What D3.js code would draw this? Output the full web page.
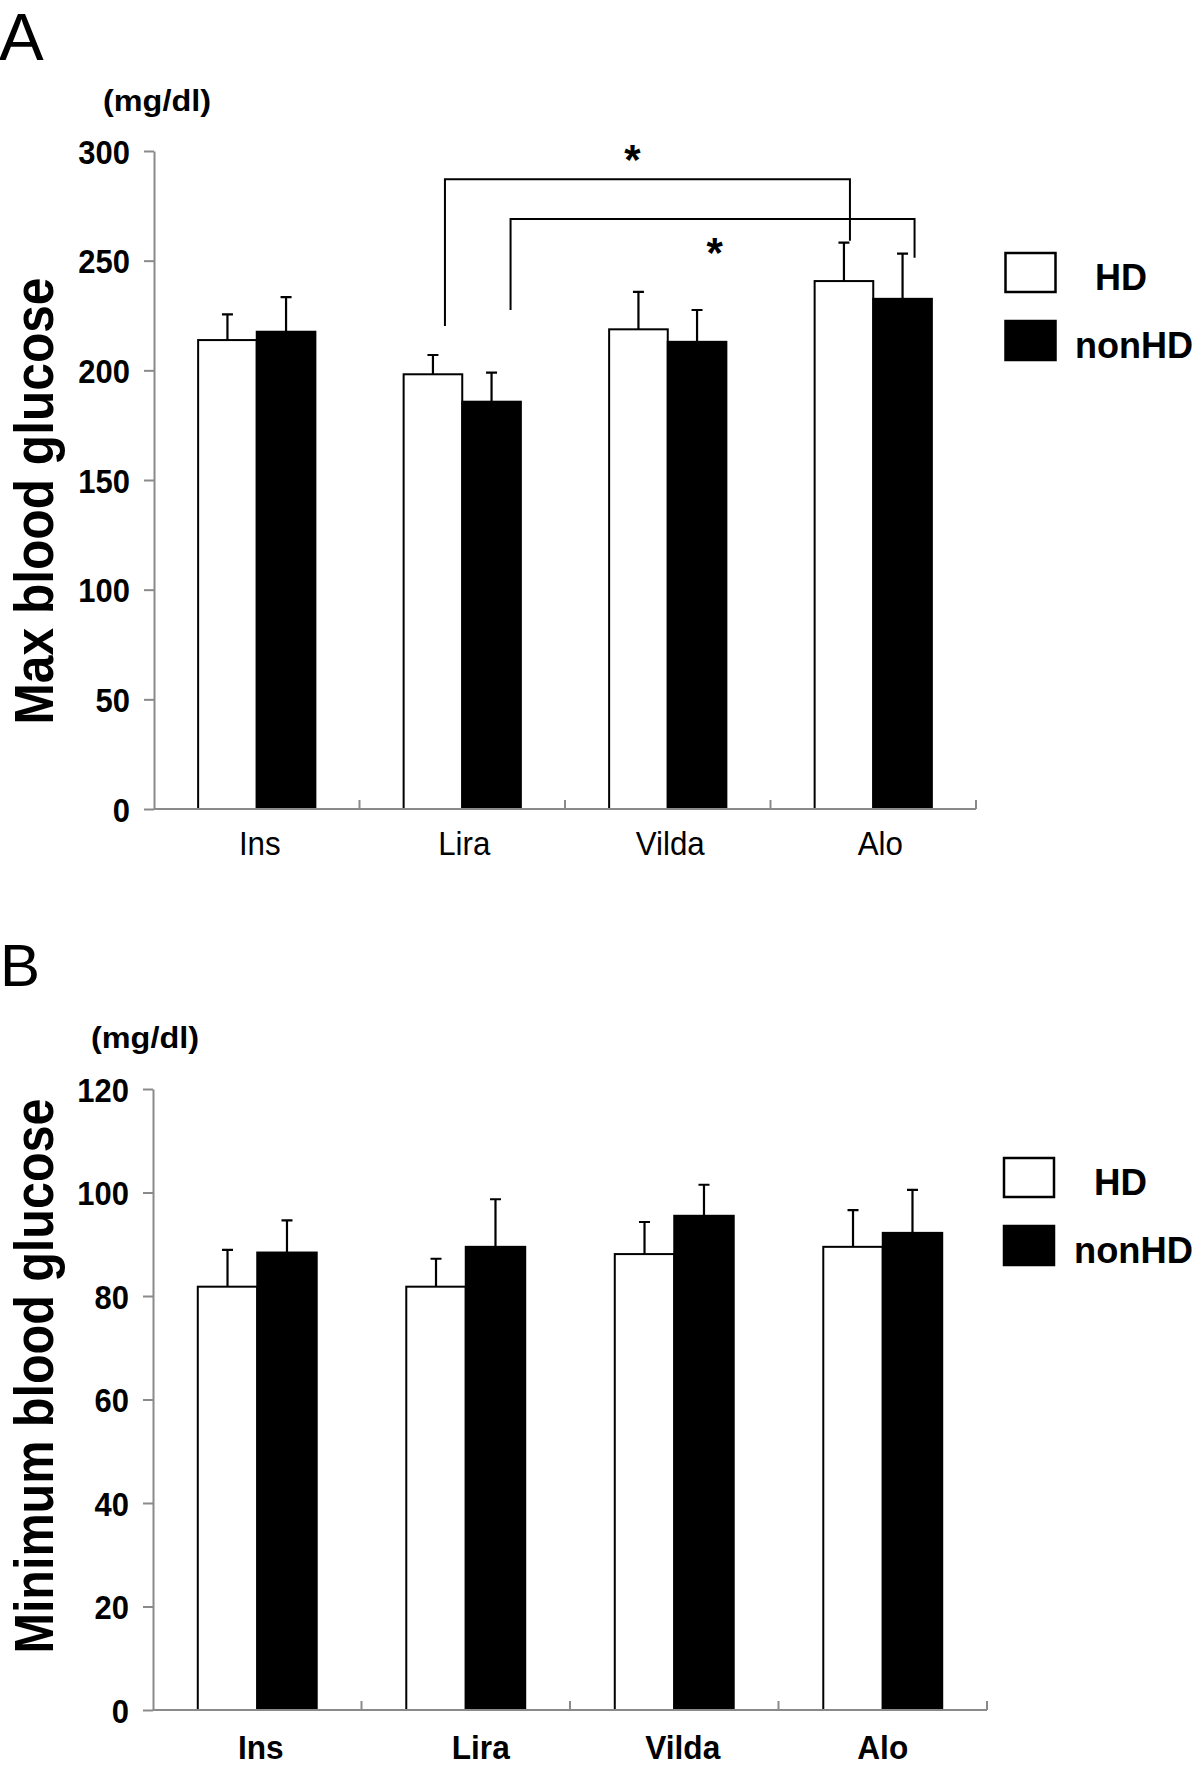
<!DOCTYPE html>
<html>
<head>
<meta charset="utf-8">
<script src="https://cdn.jsdelivr.net/npm/d3@7"></script>
<style>
  html, body { margin: 0; padding: 0; background: #fff; }
  svg { display: block; }
  text { font-family: "Liberation Sans", Arial, Helvetica, sans-serif; fill: #000; }
</style>
</head>
<body>
<div id="chart"></div>
<script>
// ---------------- data ----------------
const categories = ["Ins", "Lira", "Vilda", "Alo"];
const seriesNames = ["HD", "nonHD"];

// Panel A: Max blood glucose (mg/dl), mean and upper SD
const maxHD        = [213.8, 198.2, 218.7, 240.7];
const maxHDErr     = [11.7, 8.8, 17.1, 17.5];
const maxNonHD     = [217.6, 185.7, 213.0, 232.6];
const maxNonHDErr  = [15.8, 13.3, 14.5, 20.6];
const maxTicks     = [0, 50, 100, 150, 200, 250, 300];

// Panel B: Minimum blood glucose (mg/dl)
const minHD        = [81.8, 81.8, 88.1, 89.5];
const minHDErr     = [7.1, 5.4, 6.2, 7.1];
const minNonHD     = [88.4, 89.5, 95.5, 92.2];
const minNonHDErr  = [6.2, 9.2, 6.0, 8.3];
const minTicks     = [0, 20, 40, 60, 80, 100, 120];

// significance brackets (panel A), in data units
const maxBrackets = [
  { from: ["Lira", "HD"],    to: ["Alo", "HD"],    top: 287.1, fromEnd: 220.2, toEnd: 259.1, label: "*", labelY: 300.5 },
  { from: ["Lira", "nonHD"], to: ["Alo", "nonHD"], top: 269.0, fromEnd: 227.5, toEnd: 251.3, label: "*", labelY: 258.0 }
];

// ---------------- layout ----------------
const W = 1200, H = 1767;
const FONT = '"Liberation Sans", Arial, Helvetica, sans-serif';
const AXIS_GRAY = "#8a8a8a";

const svg = d3.select("#chart").append("svg")
  .attr("width", W).attr("height", H)
  .attr("viewBox", `0 0 ${W} ${H}`);
svg.append("rect").attr("width", W).attr("height", H).attr("fill", "#fff");

function condense(sel, k) {
  sel.each(function () {
    const len = this.getComputedTextLength();
    d3.select(this).attr("textLength", len * k).attr("lengthAdjust", "spacingAndGlyphs");
  });
}

function buildRows(means, errs) {
  return categories.map((c, i) => ({ cat: c, values: seriesNames.map((s, j) => ({ cat: c, series: s, v: means[j][i], e: errs[j][i] })) }));
}

function drawPanel(opt) {
  const g = svg.append("g");
  const x0 = d3.scaleBand().domain(categories).range(opt.xRange).padding(0);
  const x1 = d3.scaleBand().domain(seriesNames).range([0, x0.bandwidth()]).paddingInner(0).paddingOuter(0.753);
  const y = d3.scaleLinear().domain([0, opt.ticks[opt.ticks.length - 1]]).range(opt.yRange);
  const color = d3.scaleOrdinal().domain(seriesNames).range(["#fff", "#000"]);

  // panel letter
  g.append("text").attr("x", opt.letterX).attr("y", opt.letterY)
    .attr("font-size", opt.letterSize).attr("font-weight", "normal").text(opt.letter);

  // unit label
  g.append("text").attr("x", opt.unitX).attr("y", opt.unitY)
    .attr("font-size", 29).attr("font-weight", "bold")
    .attr("textLength", 108).attr("lengthAdjust", "spacingAndGlyphs")
    .text("(mg/dl)");

  // y axis title
  g.append("text")
    .attr("transform", `translate(${opt.titleX},${opt.titleY}) rotate(-90)`)
    .attr("text-anchor", "middle").attr("font-size", 56).attr("font-weight", "bold")
    .attr("textLength", opt.titleLen).attr("lengthAdjust", "spacingAndGlyphs")
    .text(opt.title);

  // y axis
  const yAxis = g.append("g").attr("transform", `translate(${opt.xRange[0]},0)`)
    .call(d3.axisLeft(y).tickValues(opt.ticks).tickSize(10).tickSizeOuter(0).tickPadding(14).tickFormat(d3.format("d")));
  yAxis.select(".domain").attr("stroke", AXIS_GRAY).attr("stroke-width", 2);
  yAxis.selectAll(".tick line").attr("stroke", AXIS_GRAY).attr("stroke-width", 2);
  yAxis.selectAll(".tick text").attr("font-family", FONT).attr("font-size", 34).attr("font-weight", "bold").attr("fill", "#000")
    .attr("dy", "0.36em");
  condense(yAxis.selectAll(".tick text"), 0.91);

  // bars
  const rows = buildRows(opt.means, opt.errs);
  const groups = g.selectAll("g.cat").data(rows).join("g")
    .attr("class", "cat").attr("transform", d => `translate(${x0(d.cat)},0)`);

  groups.selectAll("rect").data(d => d.values).join("rect")
    .attr("x", d => x1(d.series)).attr("width", x1.bandwidth())
    .attr("y", d => y(d.v)).attr("height", d => y(0) - y(d.v))
    .attr("fill", d => color(d.series)).attr("stroke", "#000").attr("stroke-width", 2);

  // error bars (upper only)
  const capHalf = 5.5;
  groups.selectAll("path.err").data(d => d.values).join("path")
    .attr("class", "err")
    .attr("d", d => {
      const cx = x1(d.series) + x1.bandwidth() / 2;
      const yt = y(d.v + d.e), yb = y(d.v);
      return `M${cx},${yb}V${yt}M${cx - capHalf},${yt}H${cx + capHalf}`;
    })
    .attr("fill", "none").attr("stroke", "#000").attr("stroke-width", 2.2);

  // x axis baseline
  const base = y(0);
  g.append("line").attr("x1", opt.xRange[0]).attr("x2", opt.xRange[1]).attr("y1", base).attr("y2", base)
    .attr("stroke", AXIS_GRAY).attr("stroke-width", 2);
  // boundary ticks (pointing up)
  g.selectAll("line.xb").data(categories).join("line").attr("class", "xb")
    .attr("x1", d => x0(d) + x0.bandwidth()).attr("x2", d => x0(d) + x0.bandwidth())
    .attr("y1", base).attr("y2", base - 9)
    .attr("stroke", AXIS_GRAY).attr("stroke-width", 2);

  // category labels
  const xAxis = g.append("g").attr("transform", `translate(0,${base})`)
    .call(d3.axisBottom(x0).tickSize(0).tickPadding(opt.labelPad));
  xAxis.select(".domain").remove();
  xAxis.selectAll(".tick text").attr("font-family", FONT).attr("font-size", opt.labelSize)
    .attr("font-weight", opt.labelWeight).attr("fill", "#000")
    .attr("dx", (d, i) => opt.labelNudge[i]);
  condense(xAxis.selectAll(".tick text"), opt.labelCondense);

  // significance brackets
  const nudge = [[12, 6], [19, 12]];
  (opt.brackets || []).forEach((b, i) => {
    const xa = x0(b.from[0]) + x1(b.from[1]) + x1.bandwidth() / 2 + nudge[i][0];
    const xb = x0(b.to[0]) + x1(b.to[1]) + x1.bandwidth() / 2 + nudge[i][1];
    g.append("path")
      .attr("d", `M${xa},${y(b.fromEnd)}V${y(b.top)}H${xb}V${y(b.toEnd)}`)
      .attr("fill", "none").attr("stroke", "#000").attr("stroke-width", 2);
    const starShift = i === 0 ? -15 : 2;
    g.append("text").attr("x", (xa + xb) / 2 + starShift).attr("y", y(b.labelY) + 24)
      .attr("text-anchor", "middle").attr("font-size", 42).attr("font-weight", "bold").text(b.label);
  });

  // legend
  const lg = g.append("g");
  seriesNames.forEach((s, i) => {
    lg.append("rect").attr("x", opt.legendX).attr("y", opt.legendY[i])
      .attr("width", 50).attr("height", 39)
      .attr("fill", color(s)).attr("stroke", "#000").attr("stroke-width", 2.5);
    lg.append("text").attr("x", opt.legendTextX[i]).attr("y", opt.legendY[i] + 37)
      .attr("font-size", 37).attr("font-weight", "bold")
      .attr("textLength", opt.legendTextLen[i]).attr("lengthAdjust", "spacingAndGlyphs")
      .text(s);
  });
}

drawPanel({
  letter: "A", letterX: -1, letterY: 60, letterSize: 67,
  unitX: 103, unitY: 111,
  title: "Max blood glucose", titleX: 53, titleY: 501, titleLen: 447,
  ticks: maxTicks, xRange: [154, 976], yRange: [809, 151],
  means: [maxHD, maxNonHD], errs: [maxHDErr, maxNonHDErr],
  labelPad: 22, labelWeight: "normal", labelSize: 34, labelCondense: 0.92, labelNudge: [3, 2, 2.5, 7],
  brackets: maxBrackets,
  legendX: 1005.5, legendY: [253, 321], legendTextX: [1095, 1075], legendTextLen: [52, 118]
});

drawPanel({
  letter: "B", letterX: 0, letterY: 986, letterSize: 60,
  unitX: 91, unitY: 1048,
  title: "Minimum blood glucose", titleX: 53, titleY: 1376, titleLen: 555,
  ticks: minTicks, xRange: [153, 987], yRange: [1710, 1089],
  means: [minHD, minNonHD], errs: [minHDErr, minNonHDErr],
  labelPad: 25, labelWeight: "bold", labelSize: 34, labelCondense: 0.93, labelNudge: [3.5, 15, 8.5, 0],
  brackets: [],
  legendX: 1004, legendY: [1158, 1226], legendTextX: [1094, 1074], legendTextLen: [53, 119]
});
</script>
</body>
</html>
